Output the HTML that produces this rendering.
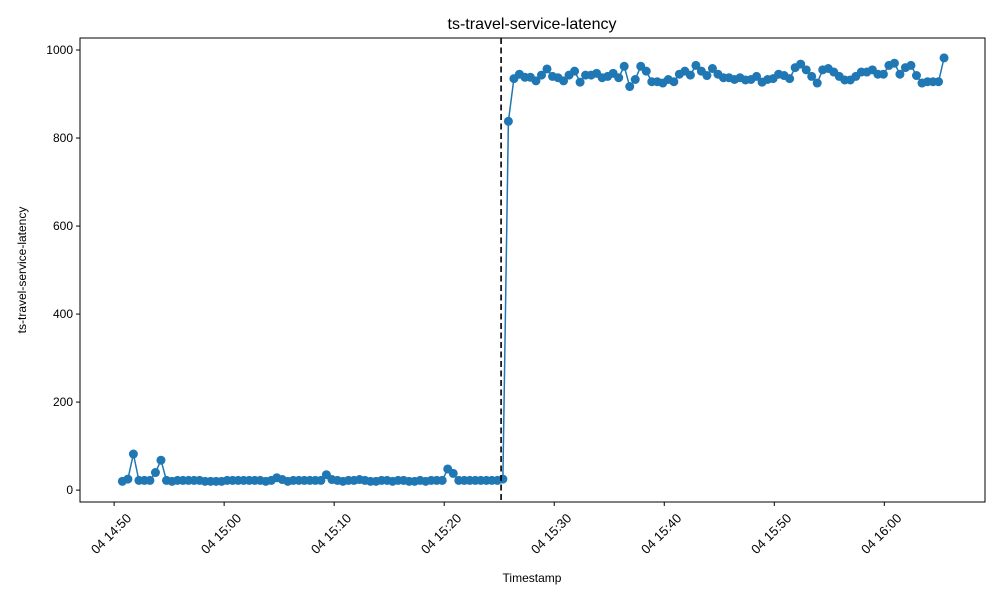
<!DOCTYPE html>
<html><head><meta charset="utf-8"><style>
body{margin:0;background:#fff;}
svg{font-family:"Liberation Sans","DejaVu Sans",sans-serif;}
</style></head><body>
<svg id="chart" width="1000" height="600"></svg>
<script>
const lowValues=[20,25,82,22,22,22,40,68,22,20,22,22,22,22,22,20,20,20,20,22,22,22,22,22,22,22,20,22,28,24,20,22,22,22,22,22,22,35,24,22,20,22,22,24,22,20,20,22,22,20,22,22,20,20,22,20,22,22,22,48,38,22,22,22,22,22,22,22,22,25];
const highValues=[838,935,945,938,938,930,943,957,940,937,930,943,952,927,943,943,947,937,940,947,937,963,917,933,963,952,928,928,925,933,928,945,952,943,965,952,942,958,945,937,937,933,937,932,933,940,927,933,935,945,942,935,960,968,955,940,925,955,958,950,940,932,932,940,950,950,955,945,945,965,970,945,960,965,942,925,928,928,928,982];
const values=lowValues.concat(highValues);
const startMin=50.75; // minutes after 14:00
const stepMin=0.5012;
const eventMin=85.17;
const xTickLabels=["04 14:50","04 15:00","04 15:10","04 15:20","04 15:30","04 15:40","04 15:50","04 16:00"];
const xTickMins=[50,60,70,80,90,100,110,120];
const yTicks=[0,200,400,600,800,1000];

const L=80,R=985,T=38,B=502;
const xMin=46.9,xMax=129.15,yMin=-27,yMax=1027.3;
const X=m=>L+(m-xMin)/(xMax-xMin)*(R-L);
const Y=v=>B-(v-yMin)/(yMax-yMin)*(B-T);
const svg=document.getElementById('chart');
const NS='http://www.w3.org/2000/svg';
function mk(tag,attrs,parent){const e=document.createElementNS(NS,tag);for(const k in attrs)e.setAttribute(k,attrs[k]);(parent||svg).appendChild(e);return e;}

const t=mk('text',{x:532,y:29,'text-anchor':'middle','font-size':16,fill:'#000'});t.textContent='ts-travel-service-latency';



const pts=values.map((v,i)=>[X(startMin+i*stepMin),Y(v)]);
const line=mk('polyline',{points:pts.map(p=>p.join(',')).join(' '),fill:'none',stroke:'#1f77b4','stroke-width':1.5});


pts.forEach(p=>{const c=mk('circle',{cx:p[0],cy:p[1],r:4.5,fill:'#1f77b4'});

});

const ev=mk('line',{x1:X(eventMin),x2:X(eventMin),y1:T,y2:B,stroke:'#000','stroke-width':1.6,'stroke-dasharray':'6,3.5'});



const frame=mk('rect',{x:L,y:T,width:R-L,height:B-T,fill:'none',stroke:'#000','stroke-width':1});



yTicks.forEach(v=>{const y=Y(v);mk('line',{x1:L-4,x2:L,y1:y,y2:y,stroke:'#000'});
const tx=mk('text',{x:L-7,y:y+4,'text-anchor':'end','font-size':12});tx.textContent=v;

});
xTickMins.forEach((m,i)=>{const x=X(m);mk('line',{x1:x,x2:x,y1:B,y2:B+4,stroke:'#000'});
const ax=x+18,ay=B+17;
const tx=mk('text',{x:ax,y:ay,'text-anchor':'end','font-size':13,transform:`rotate(-45 ${ax} ${ay})`});tx.textContent=xTickLabels[i];

});

const xl=mk('text',{x:532,y:582,'text-anchor':'middle','font-size':12});xl.textContent='Timestamp';


const yl=mk('text',{x:26,y:270,'text-anchor':'middle','font-size':12,transform:'rotate(-90 26 270)'});yl.textContent='ts-travel-service-latency';


</script>
</body></html>
